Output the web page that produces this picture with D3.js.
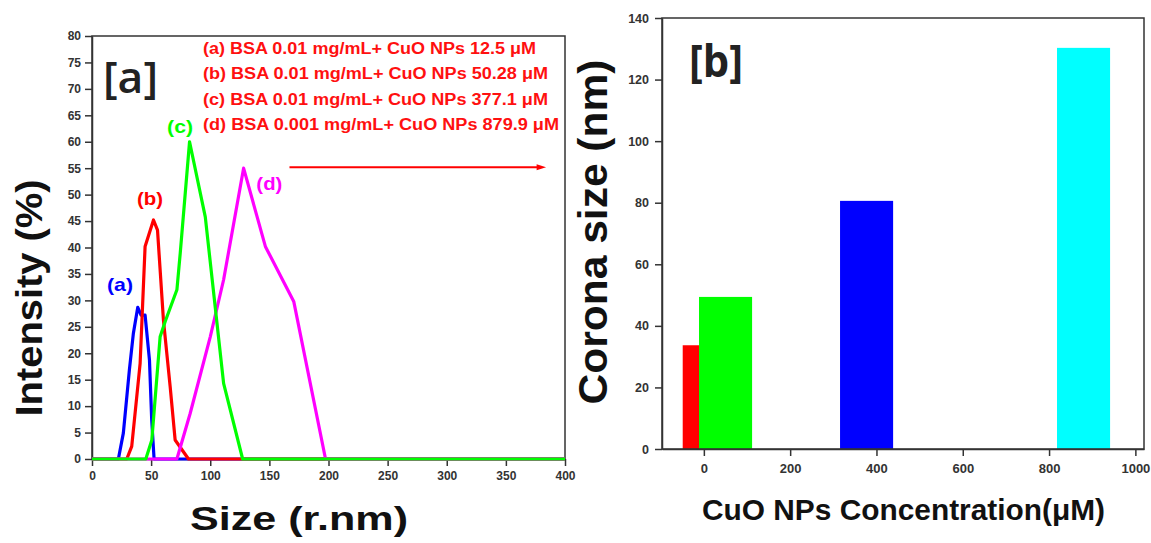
<!DOCTYPE html>
<html>
<head>
<meta charset="utf-8">
<script src="https://cdn.jsdelivr.net/npm/d3@7"></script>
<style>
  body { margin: 0; background: #fff; }
  svg { display: block; }
  .tick text { font-family: "Liberation Sans", Arial, sans-serif; font-weight: bold; fill: #333; }
  .tick line, .domain { stroke: #333; stroke-width: 1.5; }
</style>
</head>
<body>
<svg id="chart" width="1151" height="543"></svg>
<script>
// panel a: DLS size distributions
const sizeA = [0, 22.3, 26.5, 31.6, 35, 38.7, 41.5, 44.9, 48.6, 50.5, 52.5, 400];
const intA  = [0, 0, 4.9, 16.8, 23.8, 28.7, 27.2, 27.2, 18.7, 7.4, 0, 0];
const sizeB = [0, 29.4, 33.6, 40.7, 44.9, 52, 55.4, 60.4, 66.1, 70.3, 81.6, 400];
const intB  = [0, 0, 2.4, 18.1, 40.2, 45.2, 43.3, 26.3, 13.7, 3.6, 0, 0];
const sizeC = [0, 45.5, 50.6, 57.6, 61.9, 71.8, 74.6, 82.5, 95.8, 111.3, 127.4, 400];
const intC  = [0, 0, 3.6, 23.1, 26, 32, 38.9, 60, 45.8, 14.3, 0, 0];
const sizeD = [0, 71.8, 83, 100, 111.3, 128.2, 146.6, 170.6, 197.5, 400];
const intD  = [0, 0, 8.6, 23.1, 33.9, 55, 40.2, 29.8, 0, 0];

const legendLines = [
  "(a) BSA 0.01 mg/mL+ CuO NPs 12.5 \u03bcM",
  "(b) BSA 0.01 mg/mL+ CuO NPs 50.28 \u03bcM",
  "(c) BSA 0.01 mg/mL+ CuO NPs 377.1 \u03bcM",
  "(d) BSA 0.001 mg/mL+ CuO NPs 879.9 \u03bcM"
];

// panel b: corona size
const concB = [12.5, 50.28, 377.1, 879.9];
const coronaB = [33.7, 49.4, 80.6, 130.3];
const barColors = ["#ff0000", "#00ff00", "#0000ff", "#00ffff"];

const svg = d3.select("#chart");

// ---------- panel a ----------
const xa = d3.scaleLinear().domain([0, 400]).range([92, 565]);
const ya = d3.scaleLinear().domain([0, 80]).range([459, 36]);

const ga = svg.append("g");
ga.append("rect").attr("x", 92).attr("y", 36).attr("width", 473).attr("height", 423)
  .attr("fill", "none").attr("stroke", "#333").attr("stroke-width", 1.5);

ga.append("g").attr("transform", "translate(0,459)")
  .call(d3.axisBottom(xa).tickValues(d3.range(0, 401, 50)).tickSize(7).tickPadding(5).tickSizeOuter(0))
  .selectAll("text").attr("font-size", 12);
ga.append("g").attr("transform", "translate(92,0)")
  .call(d3.axisLeft(ya).tickValues(d3.range(0, 81, 5)).tickSize(7).tickPadding(4).tickSizeOuter(0))
  .selectAll("text").attr("font-size", 12);

const line = d3.line().x(d => xa(d[0])).y(d => ya(d[1]));
const series = [
  [sizeA, intA, "#0000ff"],
  [sizeB, intB, "#ff0000"],
  [sizeD, intD, "#ff00ff"],
  [sizeC, intC, "#00ff00"]
];
series.forEach(s => {
  ga.append("path").datum(d3.zip(s[0], s[1]))
    .attr("d", line).attr("fill", "none")
    .attr("stroke", s[2]).attr("stroke-width", 3.2).attr("stroke-linejoin", "round");
});

// curve tags
const tags = [["(a)", 12.7, 31.8, "#0000ff"], ["(b)", 38, 48, "#ff0000"], ["(c)", 63.5, 61.7, "#00ff00"], ["(d)", 139, 50.9, "#ff00ff"]];
tags.forEach(t => {
  ga.append("text").attr("x", xa(t[1])).attr("y", ya(t[2])).text(t[0])
    .attr("font-family", "Liberation Sans, Arial, sans-serif").attr("font-weight", "bold")
    .attr("font-size", 19).attr("fill", t[3])
    .attr("textLength", 26).attr("lengthAdjust", "spacingAndGlyphs");
});

// legend lines
const legW = [333, 345, 345, 356];
legendLines.forEach((l, i) => {
  ga.append("text").attr("x", 203).attr("y", 54 + i * 25.3).text(l)
    .attr("font-family", "Liberation Sans, Arial, sans-serif").attr("font-weight", "bold")
    .attr("font-size", 16).attr("fill", "#ff1010")
    .attr("textLength", legW[i]).attr("lengthAdjust", "spacingAndGlyphs");
});

// arrow
ga.append("line").attr("x1", xa(167)).attr("x2", xa(378)).attr("y1", ya(55.2)).attr("y2", ya(55.2))
  .attr("stroke", "#ff0000").attr("stroke-width", 2);
ga.append("path")
  .attr("d", `M${xa(376)},${ya(55.2) - 3} L${xa(384)},${ya(55.2)} L${xa(376)},${ya(55.2) + 3} Z`)
  .attr("fill", "#ff0000");

ga.append("text").attr("x", 103).attr("y", 93).text("[a]")
  .attr("font-family", "'Open Sans', Lato, sans-serif").attr("font-weight", 600)
  .attr("font-size", 44).attr("fill", "#222")
  .attr("textLength", 55).attr("lengthAdjust", "spacingAndGlyphs");

ga.append("text").attr("transform", "translate(42,298) rotate(-90)").attr("text-anchor", "middle")
  .text("Intensity (%)")
  .attr("font-family", "Liberation Sans, Arial, sans-serif").attr("font-weight", "bold")
  .attr("font-size", 37).attr("fill", "#111")
  .attr("textLength", 237).attr("lengthAdjust", "spacingAndGlyphs");

ga.append("text").attr("x", 190).attr("y", 530).text("Size (r.nm)")
  .attr("font-family", "Liberation Sans, Arial, sans-serif").attr("font-weight", "bold")
  .attr("font-size", 33).attr("fill", "#111")
  .attr("textLength", 218).attr("lengthAdjust", "spacingAndGlyphs");

// ---------- panel b ----------
const xb = d3.scaleLinear().domain([-97, 1020]).range([662, 1144]);
const yb = d3.scaleLinear().domain([0, 140]).range([449, 18]);
const barW = 123;

const gb = svg.append("g");
gb.selectAll("rect.bar").data(concB).enter().append("rect")
  .attr("class", "bar")
  .attr("x", d => xb(d - barW / 2))
  .attr("width", d => xb(d + barW / 2) - xb(d - barW / 2))
  .attr("y", (d, i) => yb(coronaB[i]))
  .attr("height", (d, i) => yb(0) - yb(coronaB[i]))
  .attr("fill", (d, i) => barColors[i]);

gb.append("rect").attr("x", 662).attr("y", 18).attr("width", 482).attr("height", 431)
  .attr("fill", "none").attr("stroke", "#333").attr("stroke-width", 1.5);

gb.append("g").attr("transform", "translate(0,449)")
  .call(d3.axisBottom(xb).tickValues(d3.range(0, 1001, 200)).tickFormat(d3.format("d"))
    .tickSize(7).tickPadding(8).tickSizeOuter(0))
  .selectAll("text").attr("font-size", 13);
gb.append("g").attr("transform", "translate(662,0)")
  .call(d3.axisLeft(yb).tickValues(d3.range(0, 141, 20)).tickSize(7).tickPadding(6).tickSizeOuter(0))
  .selectAll("text").attr("font-size", 12.5);

gb.append("text").attr("x", 689).attr("y", 77).text("[b]")
  .attr("font-family", "'Open Sans', Lato, sans-serif").attr("font-weight", "bold")
  .attr("font-size", 44).attr("fill", "#222")
  .attr("textLength", 54).attr("lengthAdjust", "spacingAndGlyphs");

gb.append("text").attr("transform", "translate(607,232) rotate(-90)").attr("text-anchor", "middle")
  .text("Corona size (nm)")
  .attr("font-family", "Liberation Sans, Arial, sans-serif").attr("font-weight", "bold")
  .attr("font-size", 41).attr("fill", "#111")
  .attr("textLength", 345).attr("lengthAdjust", "spacingAndGlyphs");

gb.append("text").attr("x", 702).attr("y", 520).text("CuO NPs Concentration(\u03bcM)")
  .attr("font-family", "Liberation Sans, Arial, sans-serif").attr("font-weight", "bold")
  .attr("font-size", 30).attr("fill", "#111")
  .attr("textLength", 403).attr("lengthAdjust", "spacingAndGlyphs");
</script>
</body>
</html>
